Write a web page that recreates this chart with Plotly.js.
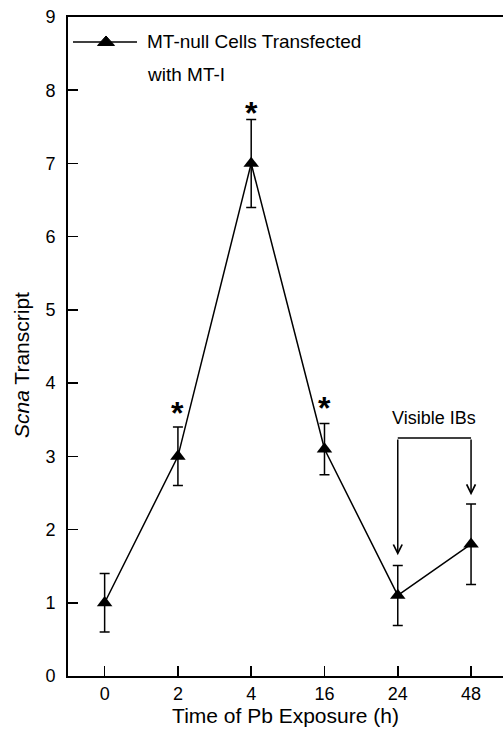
<!DOCTYPE html>
<html>
<head>
<meta charset="utf-8">
<script src="https://cdn.plot.ly/plotly-3.0.1.min.js"></script>
<style>
html,body{margin:0;padding:0;background:#fff;}
#chart{width:503px;height:736px;}
</style>
</head>
<body>
<div id="chart"></div>
<script>
// ---- data ----
const categories = ['0', '2', '4', '16', '24', '48'];
const transcript = [1.0, 3.0, 7.0, 3.1, 1.1, 1.8];
const errors = [0.4, 0.4, 0.6, 0.35, 0.41, 0.55];
const significant = ['2', '4', '16'];
const asteriskY = [3.70, 7.80, 3.77];
const ibCategories = ['24', '48'];
const ibArrowTip = [1.65, 2.47];
const ibBracketY = 3.25;
const seriesNameLines = ['MT-null Cells Transfected', 'with MT-I'];
const xTitle = 'Time of Pb Exposure (h)';
const yTitle = '<i>Scna</i> Transcript';

const xIdx = categories.map((c, i) => i);
const FONT = 'Liberation Sans, Arial, Helvetica, sans-serif';

const trace = {
  x: xIdx,
  y: transcript,
  type: 'scatter',
  mode: 'lines+markers',
  name: seriesNameLines.join(' '),
  showlegend: false,
  line: {color: '#000', width: 1.5},
  marker: {symbol: 'triangle-up', size: 13.5, color: '#000'},
  error_y: {type: 'data', array: errors, visible: true, color: '#000', thickness: 1.5, width: 5}
};

const annotations = [];
significant.forEach((c, k) => {
  annotations.push({
    x: categories.indexOf(c), y: asteriskY[k], xref: 'x', yref: 'y',
    text: '<b>*</b>', showarrow: false, yanchor: 'middle', yshift: -8,
    font: {family: FONT, size: 32, color: '#000'}
  });
});
ibCategories.forEach((c, k) => {
  const xi = categories.indexOf(c);
  annotations.push({
    x: xi, y: ibArrowTip[k], ax: xi, ay: ibBracketY,
    xref: 'x', yref: 'y', axref: 'x', ayref: 'y',
    text: '', showarrow: true, arrowhead: 5, arrowsize: 1.15, arrowwidth: 1.5,
    arrowcolor: '#000', standoff: 0, startstandoff: 0
  });
});
const ibMid = (categories.indexOf(ibCategories[0]) + categories.indexOf(ibCategories[1])) / 2;
annotations.push({
  x: ibMid, y: ibBracketY, xref: 'x', yref: 'y', text: 'Visible IBs',
  showarrow: false, yanchor: 'middle', yshift: 20,
  font: {family: FONT, size: 18, color: '#000'}
});
// y axis title
annotations.push({
  x: -0.1057, y: 0.472, xref: 'paper', yref: 'paper', textangle: -90,
  text: yTitle, showarrow: false, xanchor: 'center', yanchor: 'middle',
  font: {family: FONT, size: 21, color: '#000'}
});
// legend text
annotations.push({
  x: 0.177, y: 0.9621, xref: 'paper', yref: 'paper', text: seriesNameLines[0],
  showarrow: false, xanchor: 'left', yanchor: 'middle',
  font: {family: FONT, size: 19, color: '#000'}
});
annotations.push({
  x: 0.177, y: 0.9135, xref: 'paper', yref: 'paper', text: seriesNameLines[1],
  showarrow: false, xanchor: 'left', yanchor: 'middle',
  font: {family: FONT, size: 19, color: '#000'}
});

const shapes = [
  {
    type: 'line', xref: 'x', yref: 'y',
    x0: categories.indexOf(ibCategories[0]), x1: categories.indexOf(ibCategories[1]),
    y0: ibBracketY, y1: ibBracketY,
    line: {color: '#000', width: 1.5}
  },
  // legend sample line + marker
  {
    type: 'line', xref: 'paper', yref: 'paper', x0: 0.0115, x1: 0.1586, y0: 0.9621, y1: 0.9621,
    line: {color: '#000', width: 1.5}
  },
  {
    type: 'path', xref: 'paper', yref: 'paper', xsizemode: 'pixel', ysizemode: 'pixel',
    xanchor: 0.0874, yanchor: 0.9621, path: 'M-8.5,-3.5 L8.5,-3.5 L0,6 Z',
    fillcolor: '#000', line: {color: '#000', width: 1}
  }
];

const layout = {
  width: 503, height: 736,
  margin: {l: 68, r: 0, t: 17, b: 60},
  paper_bgcolor: '#fff', plot_bgcolor: '#fff',
  font: {family: FONT, size: 18, color: '#000'},
  showlegend: false,
  xaxis: {
    range: [-0.5, 5.436], tickvals: xIdx, ticktext: categories,
    showgrid: false, zeroline: false, showline: true, linecolor: '#000', linewidth: 2,
    mirror: true, ticks: 'inside', ticklen: 10, tickwidth: 1.5, tickcolor: '#000',
    tickfont: {family: FONT, size: 18},
    title: {text: xTitle, font: {family: FONT, size: 21}, standoff: 4}
  },
  yaxis: {
    range: [0, 9], dtick: 1, tick0: 0,
    showgrid: false, zeroline: false, showline: true, linecolor: '#000', linewidth: 2,
    ticks: 'inside', ticklen: 10, tickwidth: 1.5, tickcolor: '#000',
    tickfont: {family: FONT, size: 18}, ticklabelstandoff: 7
  },
  annotations: annotations,
  shapes: shapes
};

Plotly.newPlot('chart', [trace], layout, {displayModeBar: false, staticPlot: true});
</script>
</body>
</html>
